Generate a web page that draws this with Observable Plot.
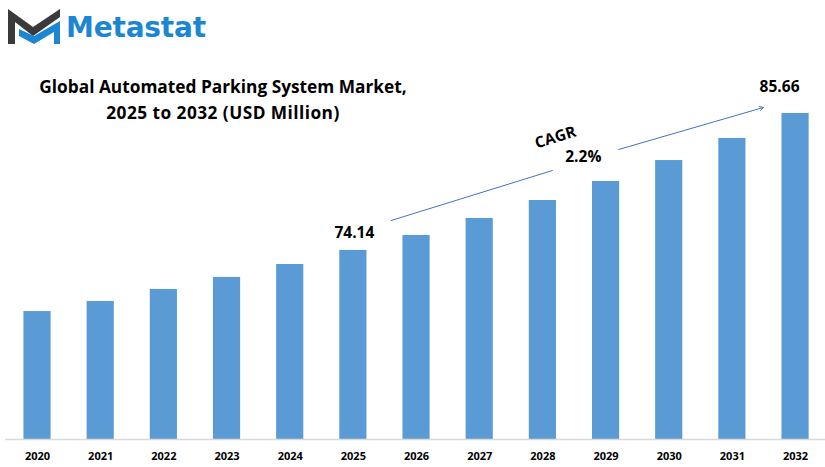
<!DOCTYPE html>
<html>
<head>
<meta charset="utf-8">
<script src="https://cdn.jsdelivr.net/npm/d3@7"></script>
<script src="https://cdn.jsdelivr.net/npm/@observablehq/plot@0.6"></script>
<style>
  html, body { margin: 0; padding: 0; background: #fff; }
  #wrap { position: relative; width: 825px; height: 467px; overflow: hidden; }
  #logo { position: absolute; left: 0; top: 0; }
  #brand { position: absolute; left: 66px; top: 10px; font: bold 28px "DejaVu Sans", sans-serif; color: #1b86d2; line-height: 36px; letter-spacing: -0.2px; }
  #title { position: absolute; left: 22px; top: 74px; width: 402px; text-align: center; font: bold 17.3px/26px "Open Sans", sans-serif; color: #000; }
  #title span { letter-spacing: 0.45px; }
</style>
</head>
<body>
<div id="wrap">
  <svg id="logo" width="66" height="50" viewBox="0 0 66 50">
    <polygon points="8,9 33,27 60,9 60,17 33,36 15,22 15,44 8,44" fill="#3a3a3a"/>
    <polygon points="19,29 19,36 34,44 54,32 54,44 60,44 60,21 34,36" fill="#1b86d2"/>
  </svg>
  <div id="brand">Metastat</div>
  <div id="title">Global Automated Parking System Market,<br><span>2025 to 2032 (USD Million)</span></div>
  <div id="chart"></div>
</div>
<script>
const years = [2020, 2021, 2022, 2023, 2024, 2025, 2026, 2027, 2028, 2029, 2030, 2031, 2032];
const values = [69.0, 69.85, 70.86, 71.87, 72.96, 74.14, 75.4, 76.83, 78.34, 79.94, 81.7, 83.56, 85.66];
const yBase = 58.24;
const yTop = 95.16;
const labelled = [2025, 2032];
const cagrLeft = [[2025.6, 76.66], [2028.15, 80.86]];
const cagrRight = [2029.2, 82.63, 2031.49, 86.16];

const rows = years.map((year, i) => ({year, value: values[i]}));
const pick = y => rows.filter(d => d.year === y);
const font = '"Open Sans", sans-serif';

const plot = Plot.plot({
  width: 825,
  height: 467,
  marginTop: 0,
  marginLeft: 5,
  marginRight: 0,
  marginBottom: 28,
  x: {domain: [2019.493, 2032.474]},
  y: {domain: [yBase, yTop], axis: null},
  style: {background: "transparent", overflow: "visible"},
  marks: [
    Plot.rectY(rows, {
      x1: d => d.year - 0.5,
      x2: d => d.year + 0.5,
      y1: () => yBase,
      y2: "value",
      insetLeft: 18,
      insetRight: 18,
      fill: "#5b9bd5"
    }),
    Plot.ruleY([yBase], {stroke: "#d9d9d9", strokeWidth: 1.5}),
    Plot.axisX({
      ticks: years,
      tickFormat: "d",
      tickSize: 0,
      tickPadding: 13,
      label: null,
      fontSize: 11,
      fontWeight: "bold",
      fontFamily: font,
      fill: "#000"
    }),
    Plot.text(pick(labelled[0]), {x: "year", y: "value", text: d => d.value.toFixed(2), dx: 1, dy: -17, fontSize: 15.5, fontWeight: "bold", fontFamily: font, fill: "#000"}),
    Plot.text(pick(labelled[1]), {x: "year", y: "value", text: d => d.value.toFixed(2), dx: -16, dy: -26, fontSize: 15.5, fontWeight: "bold", fontFamily: font, fill: "#000"}),
    Plot.line(cagrLeft, {x: d => d[0], y: d => d[1], stroke: "#4472c4", strokeWidth: 1}),
    Plot.arrow([cagrRight], {x1: d => d[0], y1: d => d[1], x2: d => d[2], y2: d => d[3], stroke: "#4472c4", strokeWidth: 1, headLength: 6, bend: 0}),
    Plot.text(["CAGR"], {x: [2028.2], y: [83.64], text: d => d, rotate: -17, fontSize: 15.5, fontWeight: "bold", fontFamily: font, fill: "#000"}),
    Plot.text(["2.2%"], {x: [2028.64], y: [81.96], text: d => d, fontSize: 15.5, fontWeight: "bold", fontFamily: font, fill: "#000"})
  ]
});
document.getElementById("chart").appendChild(plot);
</script>
</body>
</html>
